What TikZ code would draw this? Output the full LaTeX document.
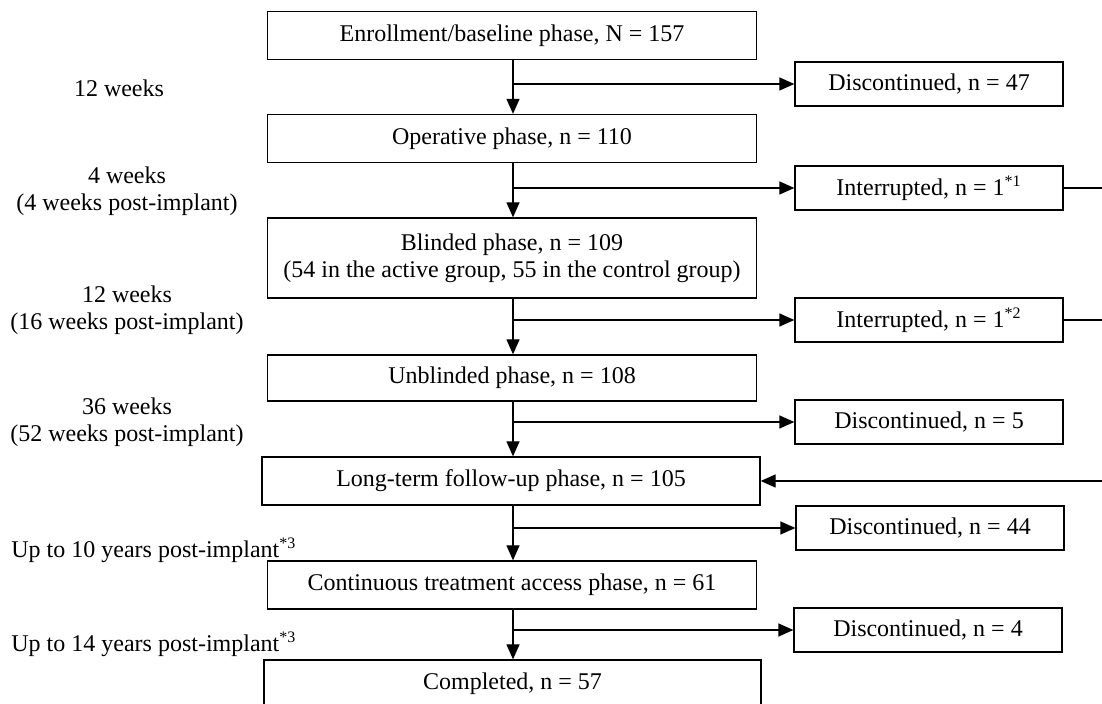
\documentclass[tikz,border=0pt]{standalone}
\usepackage{fontspec}
\setmainfont{Liberation Serif}
\usetikzlibrary{arrows.meta}

\tikzset{
  phasebox/.style={draw, line width=0.65pt, minimum width=244.5pt, minimum height=24pt, inner sep=0pt, align=center},
  exitbox/.style={draw, line width=0.65pt, minimum width=134pt, minimum height=22pt, inner sep=0pt},
  flow/.style={line width=0.65pt, -{Triangle[length=7.5pt,width=6.5pt]}},
  plain/.style={line width=0.65pt},
  timelabel/.style={align=center, inner sep=0pt}
}

\begin{document}
\begin{tikzpicture}[x=0.5pt, y=-0.5pt, font=\fontsize{12}{13.6}\selectfont]
        \useasboundingbox (0,0) rectangle (1102,704);
        \clip (0,0) rectangle (1102,704);
        \coordinate (spine) at (513,0);
        \coordinate (rim) at (1104,0);

        % Phase boxes
        \node [phasebox] (enroll) at (512,35.5) {Enrollment/baseline phase, N = 157};
        \node [phasebox] (operative) at (512,138.5) {Operative phase, n = 110};
        \node [phasebox, minimum height=40pt] (blinded) at (512,258) {Blinded phase, n = 109\\(54 in the active group, 55 in the control group)};
        \node [phasebox, minimum height=23pt] (unblinded) at (512,378) {Unblinded phase, n = 108};
        \node [phasebox, minimum width=249pt] (longterm) at (511,481) {Long-term follow-up phase, n = 105};
        \node [phasebox] (access) at (512,585) {Continuous treatment access phase, n = 61};
        \node [phasebox, minimum width=248.5pt] (completed) at (512.5,684) {Completed, n = 57};

        % Exit boxes
        \node [exitbox] (disc1) at (929,84) {Discontinued, n = 47};
        \node [exitbox] (intr1) at (929,188) {Interrupted, n = 1\textsuperscript{*1}};
        \node [exitbox] (intr2) at (929,320) {Interrupted, n = 1\textsuperscript{*2}};
        \node [exitbox] (disc2) at (929,422) {Discontinued, n = 5};
        \node [exitbox] (disc3) at (930,528) {Discontinued, n = 44};
        \node [exitbox] (disc4) at (928,630) {Discontinued, n = 4};

        % Time labels
        \node [timelabel] (t1) at (119,88) {12 weeks};
        \node [timelabel] (t2) at (127,191) {4 weeks\\(4 weeks post-implant)};
        \node [timelabel] (t3) at (127,310) {12 weeks\\(16 weeks post-implant)};
        \node [timelabel] (t4) at (127,422) {36 weeks\\(52 weeks post-implant)};
        \node [timelabel, anchor=west] (t5) at (11,550) {Up to 10 years post-implant\textsuperscript{*3}};
        \node [timelabel, anchor=west] (t6) at (11,644) {Up to 14 years post-implant\textsuperscript{*3}};

        % Main flow
        \draw [flow] (enroll.south -| spine) -- (operative.north -| spine);
        \draw [flow] (operative.south -| spine) -- (blinded.north -| spine);
        \draw [flow] (blinded.south -| spine) -- (unblinded.north -| spine);
        \draw [flow] (unblinded.south -| spine) -- (longterm.north -| spine);
        \draw [flow] (longterm.south -| spine) -- (access.north -| spine);
        \draw [flow] (access.south -| spine) -- (completed.north -| spine);

        % Side branches
        \draw [flow] (spine |- disc1) -- (disc1.west);
        \draw [flow] (spine |- intr1) -- (intr1.west);
        \draw [flow] (spine |- intr2) -- (intr2.west);
        \draw [flow] (spine |- disc2) -- (disc2.west);
        \draw [flow] (spine |- disc3) -- (disc3.west);
        \draw [flow] (spine |- disc4) -- (disc4.west);

        % Return of interrupted cases
        \draw [plain] (intr1.east) -- (intr1.east -| rim);
        \draw [plain] (intr2.east) -- (intr2.east -| rim);
        \draw [flow] (longterm.east -| rim) -- (longterm.east);
    \end{tikzpicture}
\end{document}
